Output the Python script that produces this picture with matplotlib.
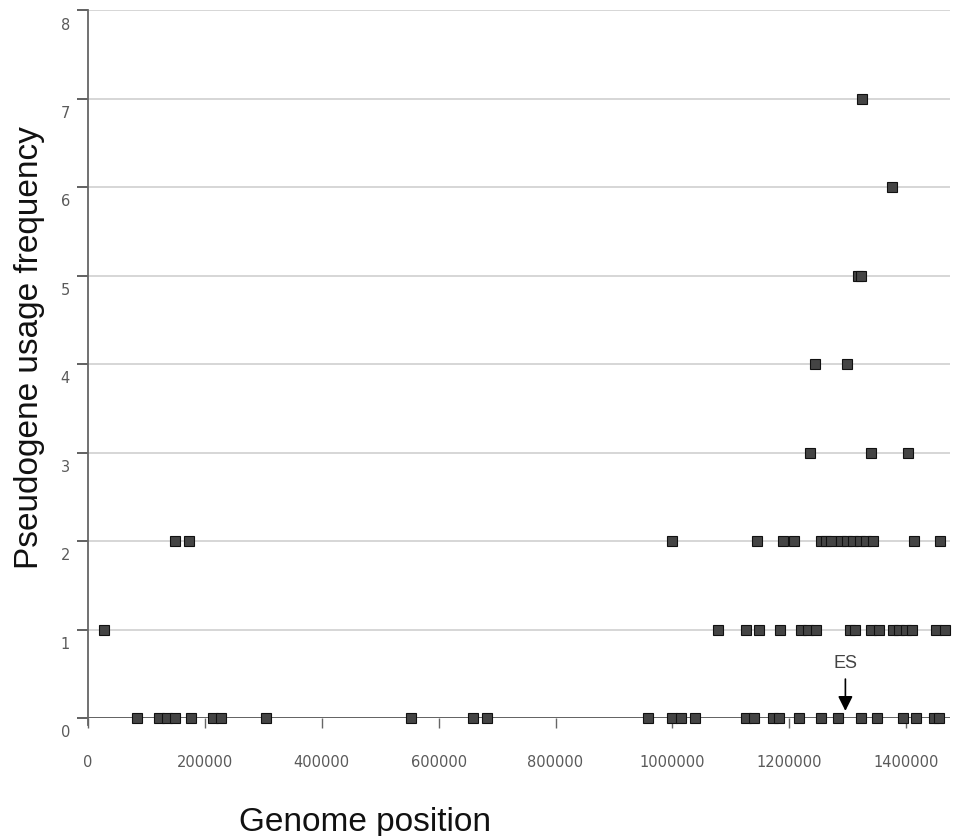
import matplotlib
matplotlib.use("Agg")
import matplotlib.pyplot as plt
import matplotlib.transforms as mtransforms

# pseudogene positions (bp), grouped by usage frequency
pos_freq0 = [83800, 121400, 135000, 148700, 176100, 213700, 227400, 304300,
             552100, 658100, 682000, 958900, 1000000, 1015400, 1039300,
             1126500, 1140200, 1172700, 1182900, 1217100, 1254700, 1283800,
             1323100, 1350400, 1394900, 1417100, 1447900, 1456400]
pos_freq1 = [27300, 1077400, 1126500, 1147500, 1184000, 1219300, 1231300,
             1244900, 1304300, 1312800, 1340200, 1354000, 1377800, 1388000,
             1400000, 1410200, 1450700, 1466400]
pos_freq2 = [148700, 172600, 998800, 1144700, 1188500, 1208600, 1253500,
             1262000, 1270600, 1288900, 1299100, 1309400, 1321400, 1331600,
             1343600, 1413000, 1457600]
pos_freq3 = [1235900, 1340200, 1403400]
pos_freq4 = [1244500, 1299100]
pos_freq5 = [1318000, 1323000]
pos_freq6 = [1376100]
pos_freq7 = [1324800]

groups = [pos_freq0, pos_freq1, pos_freq2, pos_freq3,
          pos_freq4, pos_freq5, pos_freq6, pos_freq7]

es_position = 1296000
x_ticks = [0, 200000, 400000, 600000, 800000, 1000000, 1200000, 1400000]
y_ticks = [0, 1, 2, 3, 4, 5, 6, 7, 8]

plt.rcParams["font.family"] = ["Liberation Sans", "DejaVu Sans"]
tick_font = "DejaVu Sans"

fig = plt.figure(figsize=(9.54, 8.37), dpi=100, facecolor="white")
ax = fig.add_axes([88 / 954, 1 - 719 / 837, (950 - 88) / 954, (719 - 11) / 837])

xs, ys = [], []
for freq, positions in enumerate(groups):
    xs += positions
    ys += [freq] * len(positions)

# grid lines
for y in y_ticks[1:]:
    ax.axhline(y, color="#cfcfcf", linewidth=1.2, zorder=0)
ax.axhline(0, color="#555555", linewidth=1.3, zorder=1)

ax.plot(xs, ys, linestyle="none", marker="s", markersize=6.6,
        markerfacecolor="#444444", markeredgecolor="#111111",
        markeredgewidth=0.8, zorder=3, clip_on=False)

# ES marker
ax.annotate("ES", xy=(es_position, 0.08), xytext=(es_position, 0.63),
            ha="center", va="center", fontsize=13, color="#444444",
            arrowprops=dict(arrowstyle="-|>", color="black", lw=1.2,
                            mutation_scale=22, shrinkA=4, shrinkB=0))

ax.set_xlim(0, 1475000)
ax.set_ylim(0, 8)

for side in ["top", "right", "bottom"]:
    ax.spines[side].set_visible(False)
ax.spines["left"].set_color("#666666")
ax.spines["left"].set_linewidth(1.3)
ax.spines["left"].set_bounds(-0.08, 8)

ax.set_xticks(x_ticks)
ax.set_xticklabels([str(v) for v in x_ticks], family=tick_font)
ax.set_yticks(y_ticks)
ax.set_yticklabels([str(v) for v in y_ticks], family=tick_font)
ax.tick_params(axis="x", direction="in", length=7, width=1, color="#666666",
               pad=26, labelsize=10.5, labelcolor="#5a5a5a")
ax.tick_params(axis="y", direction="out", length=8, width=1.3, color="#555555",
               pad=5, labelsize=10.5, labelcolor="#5a5a5a")
# x ticks hang below the axis line
for t in ax.xaxis.get_major_ticks():
    t.tick1line.set_marker(3)
    t.tick1line.set_markersize(7)
# y labels sit a little below their grid lines
offset = mtransforms.ScaledTranslation(0, -9 / 72, fig.dpi_scale_trans)
for lab in ax.get_yticklabels():
    lab.set_transform(lab.get_transform() + offset)

ax.set_ylabel("Pseudogene usage frequency", fontsize=24, color="#111111")
ax.set_xlabel("Genome position", fontsize=24, color="#111111")
ax.yaxis.set_label_coords(-0.05, 0.525)
ax.xaxis.set_label_coords(0.321, -0.125)

fig.savefig("out.png", dpi=100, facecolor="white")
